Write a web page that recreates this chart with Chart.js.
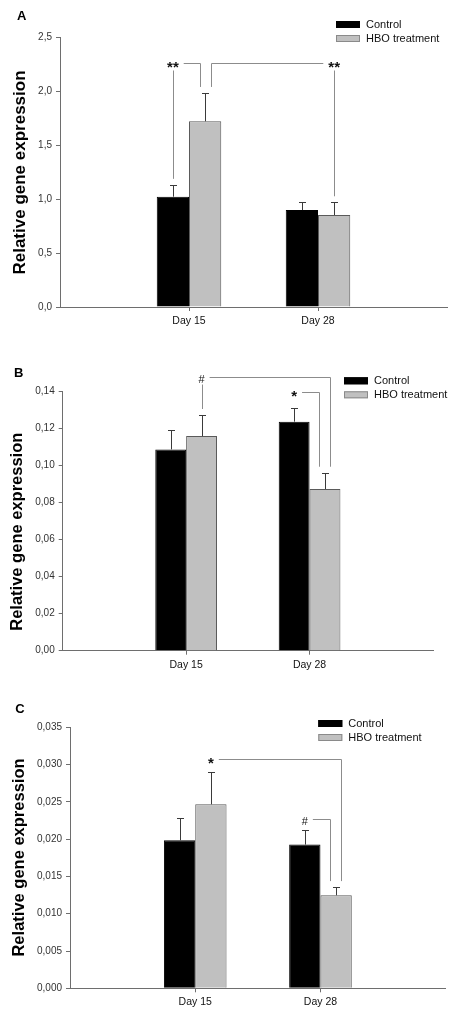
<!DOCTYPE html>
<html><head><meta charset="utf-8">
<script src="https://cdn.jsdelivr.net/npm/chart.js@4.4.0/dist/chart.umd.min.js"></script>
<style>
html,body{margin:0;padding:0;background:#fff;}
#wrap{position:relative;width:457px;height:1019px;overflow:hidden;}
.panel{position:absolute;left:0;width:457px;}
</style></head><body>
<div id="wrap">
<div class="panel" style="top:0;height:340px"><canvas id="cA"></canvas></div>
<div class="panel" style="top:340px;height:340px"><canvas id="cB"></canvas></div>
<div class="panel" style="top:680px;height:339px"><canvas id="cC"></canvas></div>
</div>
<script>
// ---------- DATA ----------
const categories = ['Day 15', 'Day 28'];
const seriesNames = ['Control', 'HBO treatment'];
const yTitle = 'Relative gene expression';

// Panel A
const controlA = [1.024, 0.900];
const controlErrA = [0.110, 0.078];
const hboA = [1.724, 0.854];
const hboErrA = [0.263, 0.118];
const yTickValuesA = [0, 0.5, 1.0, 1.5, 2.0, 2.5];
const yTickLabelsA = ['0,0', '0,5', '1,0', '1,5', '2,0', '2,5'];
const bracketsA = [
  { label: '**', from: [0, 0], to: [0, 1], level: 2.262, labelAt: 'from', legs: [true, true] },
  { label: '**', from: [0, 1], to: [1, 1], level: 2.262, labelAt: 'to', legs: [true, true] }
];

// Panel B
const controlB = [0.1088, 0.1238];
const controlErrB = [0.0107, 0.0074];
const hboB = [0.1160, 0.0874];
const hboErrB = [0.0114, 0.0088];
const yTickValuesB = [0, 0.02, 0.04, 0.06, 0.08, 0.10, 0.12, 0.14];
const yTickLabelsB = ['0,00', '0,02', '0,04', '0,06', '0,08', '0,10', '0,12', '0,14'];
const bracketsB = [
  { label: '#', from: [0, 1], to: [1, 1], level: 0.1481, labelAt: 'from', legs: [true, true] },
  { label: '*', from: [1, 0], to: [1, 1], level: 0.1400, labelAt: 'from', legs: [false, true] }
];

// Panel C
const controlC = [0.01985, 0.01927];
const controlErrC = [0.0030, 0.0019];
const hboC = [0.02467, 0.01247];
const hboErrC = [0.0044, 0.0011];
const yTickValuesC = [0, 0.005, 0.010, 0.015, 0.020, 0.025, 0.030, 0.035];
const yTickLabelsC = ['0,000', '0,005', '0,010', '0,015', '0,020', '0,025', '0,030', '0,035'];
const bracketsC = [
  { label: '*', from: [0, 1], to: [1, 1], level: 0.0308, labelAt: 'from', legs: [false, true] },
  { label: '#', from: [1, 0], to: [1, 1], level: 0.02274, labelAt: 'from', legs: [false, true] }
];

// ---------- STYLE ----------
const FONT = "'Liberation Sans', Arial, Helvetica, sans-serif";
const AXIS = '#6e6e6e';
const ERR = '#3a3a3a';
const BRK = '#8c8c8c';
const COLORS = [{ fill: '#000000', border: '#000000', legBorder: '#000000' },
                { fill: '#c0c0c0', border: '#5a5a5a', legBorder: '#8a8a8a' }];

const decor = {
  id: 'decor',
  afterDatasetsDraw(chart, args, o) {
    const ctx = chart.ctx, ys = chart.scales.y;
    ctx.save();
    ctx.strokeStyle = ERR; ctx.lineWidth = 1;
    chart.data.datasets.forEach((ds, di) => {
      const meta = chart.getDatasetMeta(di);
      meta.data.forEach((bar, i) => {
        const v = ds.data[i];
        if (v == null) return;
        const e = ds.errors[i];
        const yt = Math.round(ys.getPixelForValue(v + e)) + 0.5;
        const yb = ys.getPixelForValue(v);
        const x = Math.round(bar.x) + 0.5;
        ctx.beginPath();
        ctx.moveTo(x, yb); ctx.lineTo(x, yt);
        ctx.moveTo(x - 3.5, yt); ctx.lineTo(x + 3.5, yt);
        ctx.stroke();
      });
    });
    ctx.restore();
  },
  afterDraw(chart, args, o) {
    const ctx = chart.ctx, ys = chart.scales.y;
    ctx.save();
    // panel letter
    ctx.fillStyle = '#000';
    ctx.font = `bold 13px ${FONT}`;
    ctx.textAlign = 'center'; ctx.textBaseline = 'middle';
    ctx.fillText(o.letter, o.letterPos[0], o.letterPos[1]);
    // y title
    ctx.save();
    ctx.translate(o.titlePos[0], o.titlePos[1]);
    ctx.rotate(-Math.PI / 2);
    ctx.font = `bold ${o.titleSize}px ${FONT}`;
    ctx.fillText(yTitle, 0, 0);
    ctx.restore();
    // legend
    ctx.font = `11px ${FONT}`;
    ctx.textAlign = 'left';
    chart.data.datasets.forEach((ds, di) => {
      const bx = o.legendPos[0], by = o.legendPos[1] + di * 14;
      ctx.fillStyle = COLORS[di].fill;
      ctx.fillRect(bx, by, 24, 7);
      ctx.strokeStyle = COLORS[di].legBorder; ctx.lineWidth = 1;
      ctx.strokeRect(bx + 0.5, by + 0.5, 23, 6);
      ctx.fillStyle = '#111';
      ctx.fillText(ds.label, bx + 30, by + 3.5);
    });
    // brackets
    const barX = (ref, off) => chart.getDatasetMeta(ref[1]).data[ref[0] + 1].x + off;
    const errTop = (ref) => {
      const ds = chart.data.datasets[ref[1]];
      return ys.getPixelForValue(ds.data[ref[0] + 1] + ds.errors[ref[0] + 1]);
    };
    o.brackets.forEach((b, bi) => {
      const st = o.bracketStyle[bi];
      const fx = Math.round(barX(b.from, st.fromOff)) + 0.5;
      const tx = Math.round(barX(b.to, st.toOff)) + 0.5;
      const ly = Math.round(ys.getPixelForValue(b.level)) + 0.5;
      const isStar = b.label.indexOf('*') >= 0;
      ctx.font = isStar ? `bold 15px ${FONT}` : `11px ${FONT}`;
      ctx.textAlign = 'center'; ctx.textBaseline = 'alphabetic';
      const m = ctx.measureText(b.label);
      const asc = m.actualBoundingBoxAscent, dsc = m.actualBoundingBoxDescent;
      const lx = b.labelAt === 'from' ? barX(b.from, 0) : barX(b.to, 0);
      ctx.fillStyle = '#111';
      ctx.fillText(b.label, lx, ly + 1 + (asc - dsc) / 2);
      const half = m.width / 2 + 5;
      ctx.strokeStyle = BRK; ctx.lineWidth = 1;
      ctx.beginPath();
      if (b.labelAt === 'from') { ctx.moveTo(lx + half, ly); ctx.lineTo(tx, ly); }
      else { ctx.moveTo(fx, ly); ctx.lineTo(lx - half, ly); }
      if (b.legs[0]) {
        const lxx = b.labelAt === 'from' ? Math.round(lx) + 0.5 : fx;
        ctx.moveTo(lxx, b.labelAt === 'from' ? ly + 7 : ly);
        ctx.lineTo(lxx, errTop(b.from) - 6);
      }
      if (b.legs[1]) {
        const lxx = b.labelAt === 'to' ? Math.round(lx) + 0.5 : tx;
        ctx.moveTo(lxx, b.labelAt === 'to' ? ly + 7 : ly);
        ctx.lineTo(lxx, errTop(b.to) - 6);
      }
      ctx.stroke();
    });
    ctx.restore();
  }
};

function makeChart(id, p) {
  const labels = [''].concat(categories, ['']);
  const pad = arr => [null].concat(arr, [null]);
  return new Chart(document.getElementById(id), {
    type: 'bar',
    data: {
      labels,
      datasets: [
        { label: seriesNames[0], data: pad(p.control), errors: pad(p.controlErr),
          backgroundColor: COLORS[0].fill, borderColor: COLORS[0].border, borderWidth: 1,
          categoryPercentage: 0.5, barPercentage: 1.0 },
        { label: seriesNames[1], data: pad(p.hbo), errors: pad(p.hboErr),
          backgroundColor: COLORS[1].fill, borderColor: COLORS[1].border, borderWidth: 1,
          categoryPercentage: 0.5, barPercentage: 1.0 }
      ]
    },
    options: {
      responsive: true, maintainAspectRatio: false, animation: false,
      devicePixelRatio: 1,
      layout: { padding: p.padding },
      plugins: {
        legend: { display: false }, tooltip: { enabled: false },
        decor: {
          letter: p.letter, letterPos: p.letterPos, titlePos: p.titlePos, titleSize: p.titleSize,
          legendPos: p.legendPos, brackets: p.brackets, bracketStyle: p.bracketStyle
        }
      },
      scales: {
        x: {
          offset: false,
          afterFit: s => { s.height = 28; },
          grid: { offset: false, drawOnChartArea: false, drawTicks: true, tickLength: 4,
                  color: c => (c.tick && c.tick.label) ? AXIS : 'rgba(0,0,0,0)' },
          border: { color: AXIS, width: 1 },
          ticks: { font: { size: 10.5, family: FONT }, color: '#111', padding: 4,
                   autoSkip: false, maxRotation: 0 }
        },
        y: {
          min: 0, max: p.yValues[p.yValues.length - 1],
          afterFit: s => { s.width = p.yWidth; },
          afterBuildTicks: s => { s.ticks = p.yValues.map(v => ({ value: v })); },
          grid: { drawOnChartArea: false, drawTicks: true, tickLength: 4, color: AXIS },
          border: { color: AXIS, width: 1 },
          ticks: { font: { size: 10, family: FONT }, color: '#333', padding: 4,
                   callback: (v, i) => p.yLabels[i] }
        }
      }
    },
    plugins: [decor]
  });
}

makeChart('cA', {
  control: controlA, controlErr: controlErrA, hbo: hboA, hboErr: hboErrA,
  yValues: yTickValuesA, yLabels: yTickLabelsA, brackets: bracketsA,
  bracketStyle: [{ fromOff: 0, toOff: -5.5 }, { fromOff: 5.5, toOff: 0 }],
  padding: { left: 0, top: 37.7, right: 10, bottom: 5 }, yWidth: 60,
  letter: 'A', letterPos: [21.7, 16.2], titlePos: [20.7, 172.5], titleSize: 17,
  legendPos: [336, 21]
});
makeChart('cB', {
  control: controlB, controlErr: controlErrB, hbo: hboB, hboErr: hboErrB,
  yValues: yTickValuesB, yLabels: yTickLabelsB, brackets: bracketsB,
  bracketStyle: [{ fromOff: 0, toOff: 5.5 }, { fromOff: 0, toOff: -5.5 }],
  padding: { left: 0, top: 51.7, right: 24, bottom: 1.3 }, yWidth: 62.7,
  letter: 'B', letterPos: [18.7, 33.7], titlePos: [17.3, 191.7], titleSize: 16.5,
  legendPos: [344, 37.3]
});
makeChart('cC', {
  control: controlC, controlErr: controlErrC, hbo: hboC, hboErr: hboErrC,
  yValues: yTickValuesC, yLabels: yTickLabelsC, brackets: bracketsC,
  bracketStyle: [{ fromOff: 0, toOff: 4.5 }, { fromOff: 0, toOff: -6.5 }],
  padding: { left: 0, top: 47.3, right: 11.3, bottom: 2.7 }, yWidth: 70,
  letter: 'C', letterPos: [20, 29.2], titlePos: [19, 177.5], titleSize: 16.5,
  legendPos: [318.3, 40]
});
</script>
</body></html>
